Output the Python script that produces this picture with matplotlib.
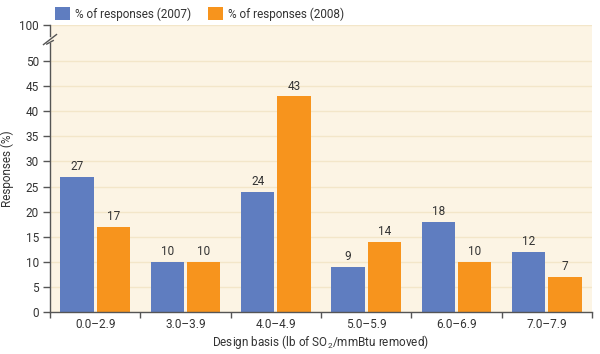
import matplotlib
matplotlib.use("Agg")
import matplotlib.pyplot as plt
import numpy as np

categories = ["0.0–2.9", "3.0–3.9", "4.0–4.9", "5.0–5.9", "6.0–6.9", "7.0–7.9"]
resp_2007 = [27, 10, 24, 9, 18, 12]
resp_2008 = [17, 10, 43, 14, 10, 7]
series_names = ["% of responses (2007)", "% of responses (2008)"]
ytick_vals = [0, 5, 10, 15, 20, 25, 30, 35, 40, 45, 50]

plt.rcParams['font.family'] = ["Roboto", "DejaVu Sans"]

BLUE = "#5f7dc0"
ORANGE = "#f7941d"
BG = "#fcf4e4"
GRID = "#f3e6c9"
AX = "#555555"
TXT = "#333333"
FS = 8.5

TOP = 57.2  # display position of the "100" tick (broken axis)

fig = plt.figure(figsize=(6, 3.54), dpi=100)
ax = fig.add_axes([50/600, 1-312/354, 542/600, (312-25)/354])
ax.set_facecolor(BG)

x = np.arange(len(categories))
w = 0.37
b1 = ax.bar(x - 0.2, resp_2007, w, color=BLUE, label=series_names[0], zorder=3)
b2 = ax.bar(x + 0.2, resp_2008, w, color=ORANGE, label=series_names[1], zorder=3)
for bars, vals in ((b1, resp_2007), (b2, resp_2008)):
    for r, v in zip(bars, vals):
        ax.text(r.get_x() + r.get_width()/2, v + 0.7, f"{v}", ha="center", va="bottom",
                fontsize=FS, color=TXT, zorder=4)

ax.set_xlim(-0.5, len(categories) - 0.5)
ax.set_ylim(0, TOP)

yt = ytick_vals + [TOP]
ax.set_yticks(yt)
ax.set_yticklabels([str(v) for v in ytick_vals] + ["100"], fontsize=FS, color=TXT)
for v in yt:
    ax.axhline(v, color=GRID, lw=1, zorder=1)

ax.set_xticks(x)
ax.set_xticklabels(categories, fontsize=FS, color=TXT)
ax.set_xticks(np.arange(-0.5, len(categories)), minor=True)
ax.tick_params(axis="x", which="major", length=0, pad=4)
ax.tick_params(axis="x", which="minor", length=4, color=AX, width=1)
ax.tick_params(axis="y", length=5, color=AX, width=1, pad=3)

for s in ("top", "right", "left"):
    ax.spines[s].set_visible(False)
ax.spines["bottom"].set_color(AX)
ax.spines["bottom"].set_linewidth(1)
ax.spines["bottom"].set_zorder(5)

# left spine with break
tr = ax.get_yaxis_transform()
lo, hi = 53.6, 55.0
ax.plot([0, 0], [0, lo], color=AX, lw=1, transform=tr, clip_on=False, zorder=5)
ax.plot([0, 0], [hi, TOP], color=AX, lw=1, transform=tr, clip_on=False, zorder=5)
ax.plot([-0.012, 0.012], [lo - 0.3, hi + 0.3], color=AX, lw=1, transform=tr, clip_on=False, zorder=5)
ax.plot([-0.006, 0.006], [lo - 0.2, lo + 0.5], color=AX, lw=1, transform=tr, clip_on=False, zorder=5)

ax.set_ylabel("Responses (%)", fontsize=FS, color=TXT)
ax.yaxis.set_label_coords(-36/542, 0.5)
ax.set_xlabel(r"Design basis (lb of SO$_\mathregular{2}$/mmBtu removed)", fontsize=FS, color=TXT)
ax.xaxis.set_label_coords(0.5, -21/287)

leg = fig.legend(handles=[b1, b2], loc="upper left", bbox_to_anchor=(48/600, 1.0), ncol=2,
                 frameon=False, fontsize=FS, handlelength=1.3, handleheight=1.3,
                 handletextpad=0.4, columnspacing=1.4, borderaxespad=0.2)
for t in leg.get_texts():
    t.set_color(TXT)

fig.savefig("out.png", dpi=100, facecolor="white")
